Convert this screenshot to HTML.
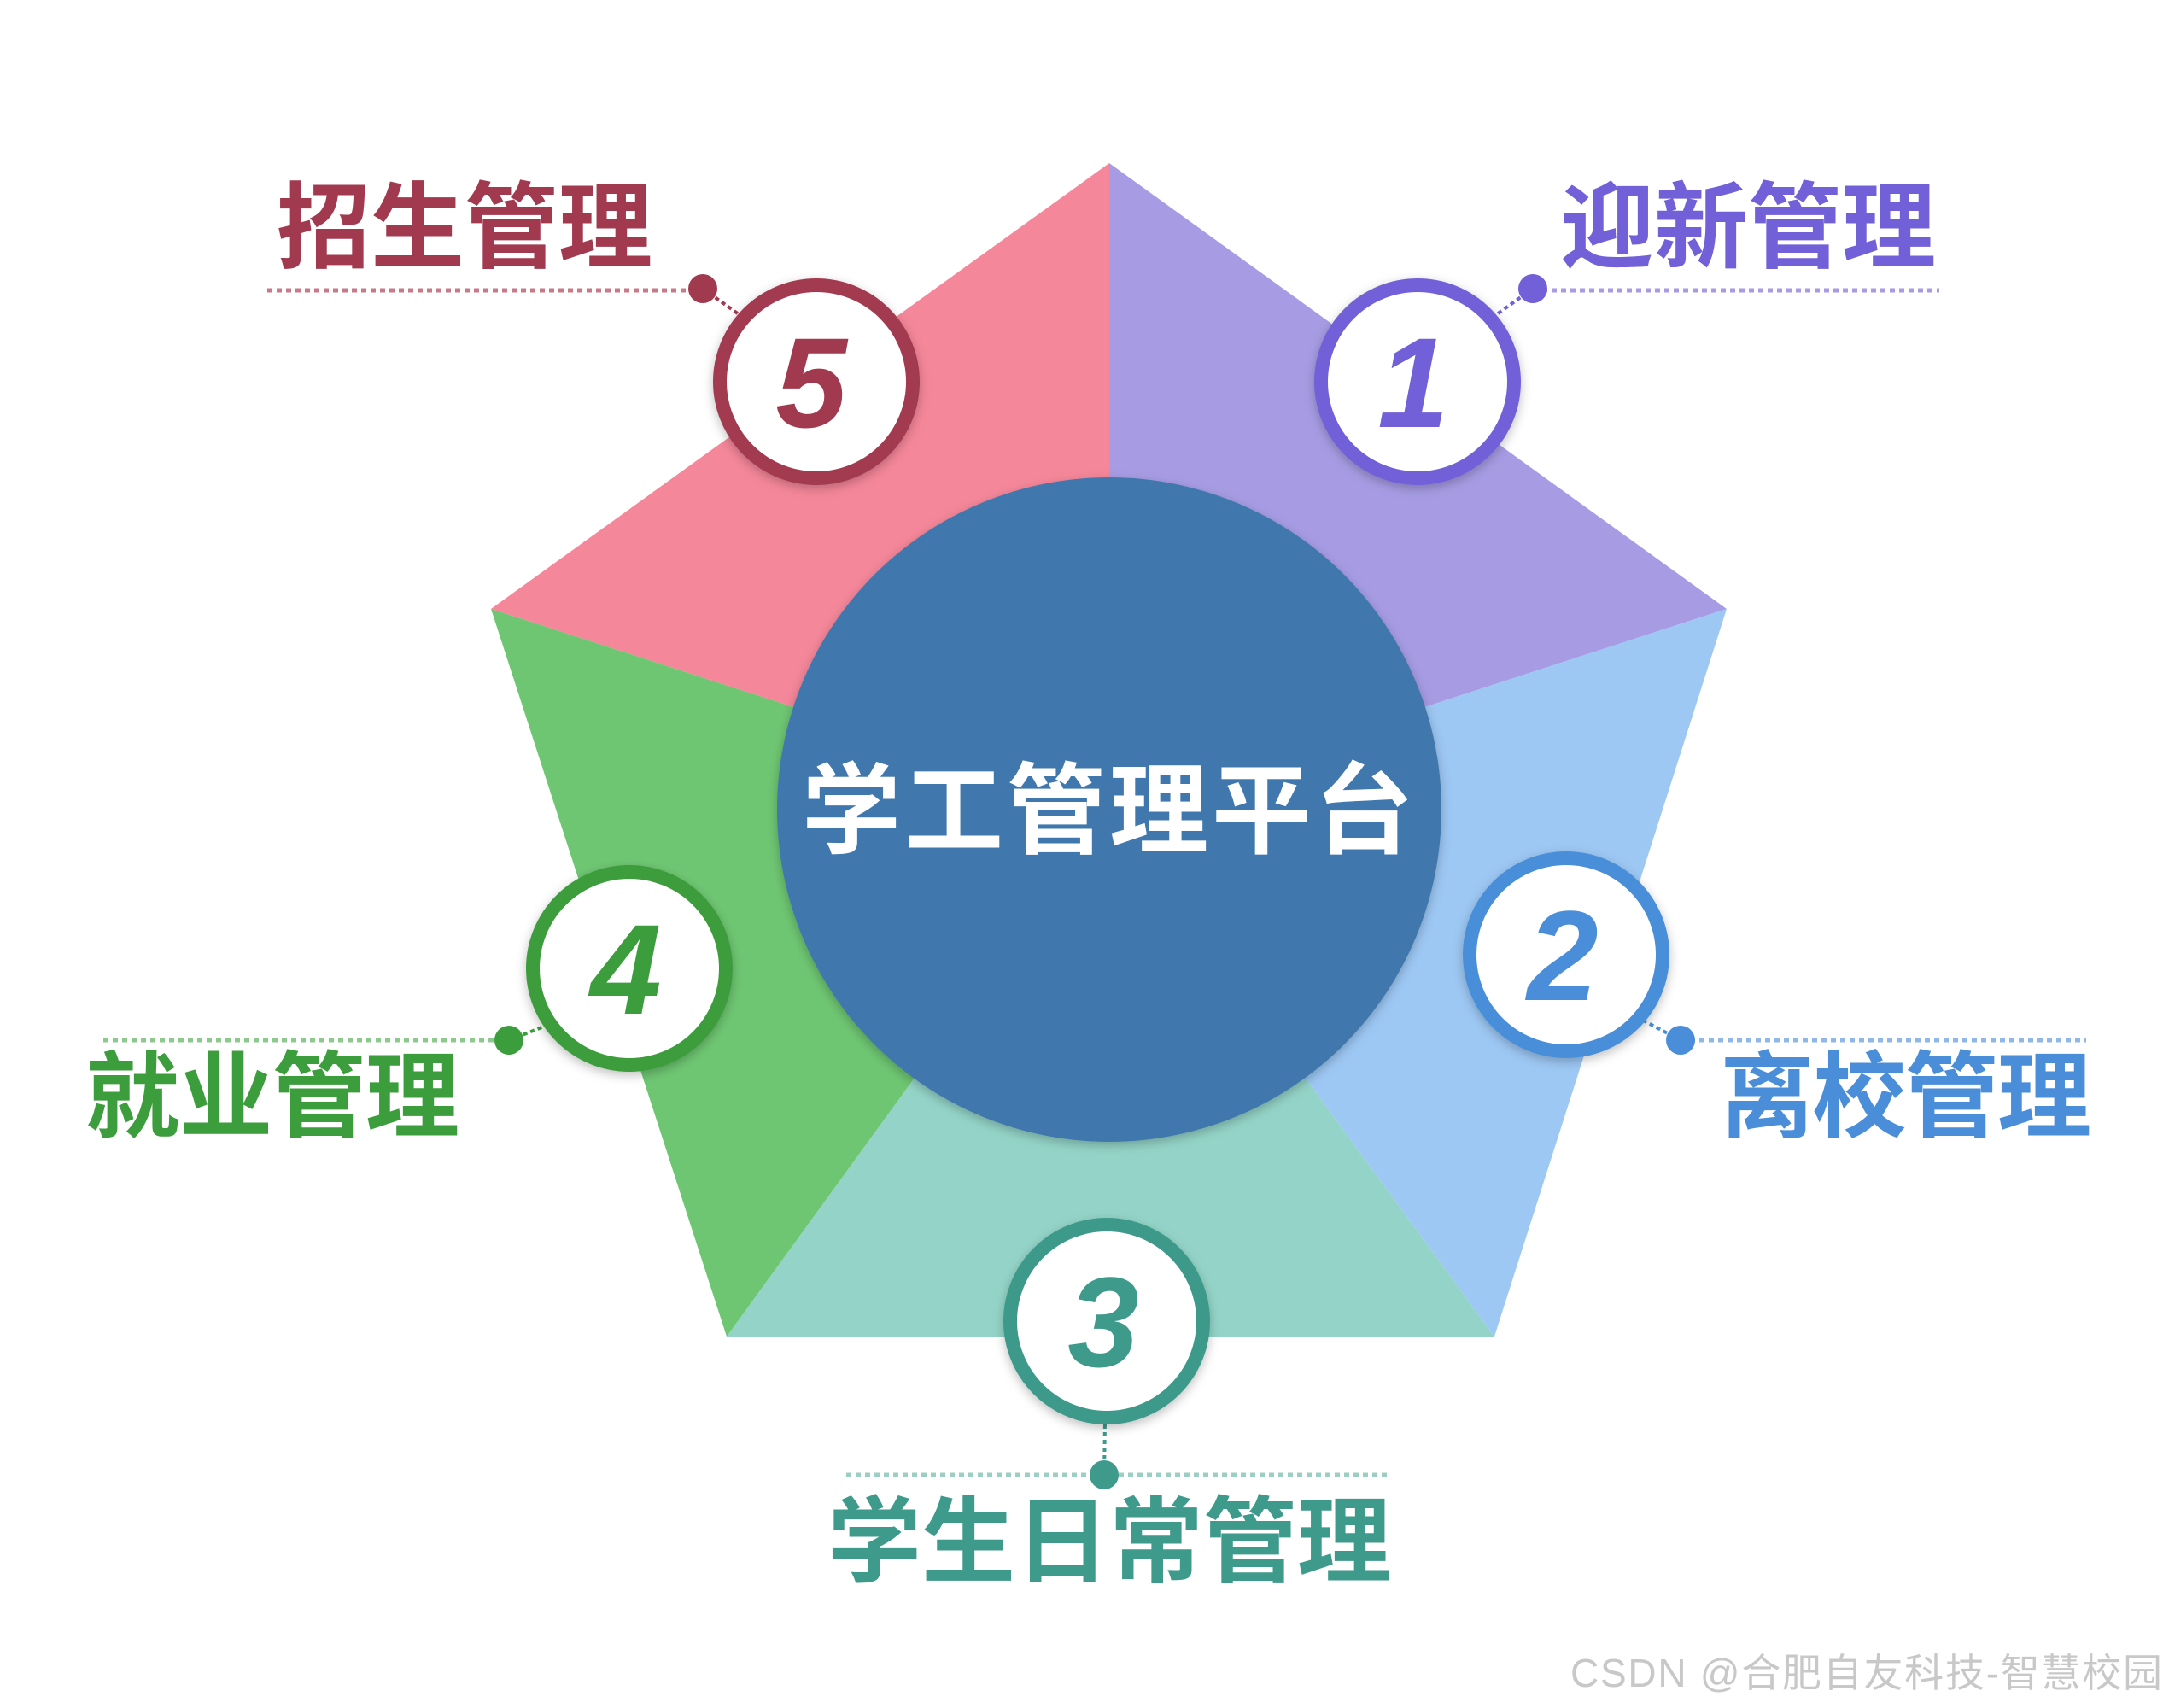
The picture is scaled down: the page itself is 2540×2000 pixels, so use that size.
<!DOCTYPE html>
<html><head><meta charset="utf-8"><style>
html,body{margin:0;padding:0;background:#fff;}
svg{display:block}
text{font-family:"Liberation Sans","Noto Sans CJK SC",sans-serif;font-weight:bold}
</style></head><body>
<svg width="2540" height="2000" viewBox="0 0 2540 2000" xmlns="http://www.w3.org/2000/svg">
<defs>
<filter id="sh" x="-20%" y="-20%" width="140%" height="140%"><feDropShadow dx="0" dy="4" stdDeviation="6" flood-opacity="0.25"/></filter>
</defs>
<polygon points="1299,191 575,713 1299,948" fill="#f5879a"/>
<polygon points="1299,191 2022,713 1299,948" fill="#a79ce4"/>
<polygon points="2022,713 1750,1565 1299,948" fill="#9dc8f4"/>
<polygon points="1750,1565 851,1565 1299,948" fill="#94d4c8"/>
<polygon points="851,1565 575,713 1299,948" fill="#6ec672"/>
<circle cx="1299" cy="948" r="389" fill="#3f78ae" filter="url(#sh)"/>
<text x="1299" y="990" font-size="116" fill="#fff" text-anchor="middle" letter-spacing="4">学工管理平台</text>

<g stroke-width="5" stroke-dasharray="6,5" fill="none">
<line x1="313" y1="340" x2="822" y2="340" stroke="#c97a88"/>
<line x1="1795" y1="340" x2="2271" y2="340" stroke="#a99be3"/>
<line x1="1968" y1="1218" x2="2443" y2="1218" stroke="#8fb8e8"/>
<line x1="121" y1="1218" x2="596" y2="1218" stroke="#8cc98c"/>
<line x1="991" y1="1727" x2="1625" y2="1727" stroke="#9ccfc4"/>
</g>
<g stroke-width="4" stroke-dasharray="5,4">
<line x1="823" y1="338" x2="875" y2="375" stroke="#a23a4f"/>
<line x1="1795" y1="338" x2="1743" y2="375" stroke="#7260d8"/>
<line x1="1968" y1="1218" x2="1915" y2="1190" stroke="#4a8ed9"/>
<line x1="596" y1="1218" x2="655" y2="1195" stroke="#3c9d3c"/>
<line x1="1293" y1="1727" x2="1294" y2="1665" stroke="#3e9a8a"/>
</g>
<g>
<circle cx="823" cy="338" r="17" fill="#a23a4f"/>
<circle cx="1795" cy="338" r="17" fill="#7260d8"/>
<circle cx="1968" cy="1218" r="17" fill="#4a8ed9"/>
<circle cx="596" cy="1218" r="17" fill="#3c9d3c"/>
<circle cx="1293" cy="1727" r="17" fill="#3e9a8a"/>
</g>
<g stroke-width="16" fill="#fff" filter="url(#sh)">
<circle cx="956" cy="447" r="113" stroke="#a23a4f"/>
<circle cx="1660" cy="447" r="113" stroke="#7260d8"/>
<circle cx="1834" cy="1118" r="113" stroke="#4a8ed9"/>
<circle cx="1296" cy="1547" r="113" stroke="#3e9a8a"/>
<circle cx="737" cy="1134" r="113" stroke="#3c9d3c"/>
</g>
<g font-size="150" font-style="italic" text-anchor="middle">
<text x="950" y="500" fill="#a23a4f">5</text>
<text x="1655" y="500" fill="#7260d8">1</text>
<text x="1830" y="1171" fill="#4a8ed9">2</text>
<text x="1292" y="1600" fill="#3e9a8a">3</text>
<text x="733" y="1187" fill="#3c9d3c">4</text>
</g>
<g font-size="110">
<text x="324" y="305" fill="#a23a4f" textLength="440">招生管理</text>
<text x="1827" y="305" fill="#7260d8" textLength="440">迎新管理</text>
<text x="2014" y="1323" fill="#4a8ed9" textLength="435">离校管理</text>
<text x="100" y="1323" fill="#3c9d3c" textLength="438">就业管理</text>
<text x="969" y="1844" fill="#3e9a8a" textLength="660">学生日常管理</text>
</g>
<text x="1839" y="1975" font-size="46" fill="#c8c8c8" style="font-weight:normal" textLength="693">CSDN @合肥自友科技-智慧校园</text>
</svg>
</body></html>
